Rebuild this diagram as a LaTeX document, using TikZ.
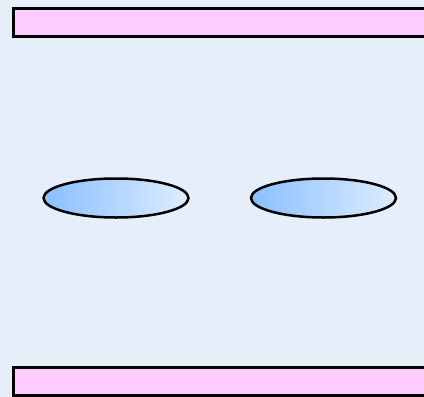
\documentclass[tikz,border=0pt]{standalone}
\usetikzlibrary{shapes.geometric}
\definecolor{bgc}{HTML}{E6EEF9}
\definecolor{barc}{HTML}{FFCCFF}
\definecolor{elL}{HTML}{88C0FF}
\definecolor{elR}{HTML}{E0ECFF}
\tikzset{
  barbox/.style={draw=black, line width=2.5pt, fill=barc, rectangle, inner sep=0pt, anchor=north west},
  blob/.style={ellipse, draw=black, line width=2.5pt, inner sep=0pt, minimum width=145pt, minimum height=39pt, left color=elL, right color=elR}
}
\begin{document}
\begin{tikzpicture}[x=1pt,y=-1pt]
\useasboundingbox (0,0) rectangle (424,397);
\fill[bgc] (0,0) rectangle (424,397);
\clip (0,0) rectangle (424,397);
\node[barbox, minimum width=430pt, minimum height=28pt] (top) at (12,7) {};
\node[barbox, minimum width=430pt, minimum height=28pt] (bottom) at (12,366) {};
\node[blob] (e1) at (116,198) {};
\node[blob] (e2) at (323.5,198) {};
\end{tikzpicture}
\end{document}
